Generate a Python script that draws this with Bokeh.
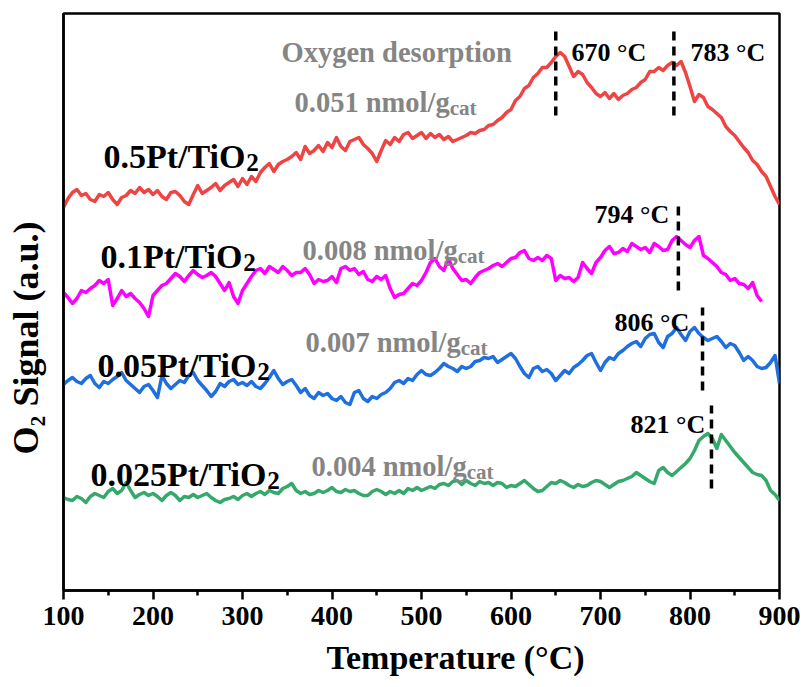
import math
from bokeh.plotting import figure
from bokeh.models import Range1d, Label, FixedTicker, ColumnDataSource
from bokeh.embed import file_html
from bokeh.resources import INLINE

# ---------------- data ----------------
temps = list(range(100, 901, 5))          # 100..900 °C
temps_mag = list(range(100, 881, 5))      # 100..880 °C

sig_05 = [383,392,398,401,395,397,391,389,396,394,398,391,386,393,395,400,397,403,398,401,
          396,400,394,391,398,399,395,389,386,396,405,397,400,403,407,400,405,408,411,404,
          412,406,414,409,418,423,427,419,426,429,431,434,438,431,444,437,440,445,439,448,
          443,453,444,440,449,451,453,446,442,437,429,440,450,446,453,449,456,458,452,455,
          458,452,457,453,456,451,454,449,451,453,455,458,457,460,461,465,466,470,473,478,
          481,490,494,502,505,513,517,523,523,528,534,538,534,524,514,519,516,508,503,497,
          494,498,492,497,491,495,497,501,503,508,511,519,519,523,520,525,528,525,529,518,
          504,489,496,493,484,481,477,473,464,459,455,449,443,438,430,426,419,414,404,394,386]

sig_01 = [298,293,287,292,300,298,302,305,310,307,311,285,292,300,294,297,292,288,282,274,
          295,300,305,307,312,317,314,309,315,320,316,313,315,318,314,307,300,308,294,287,
          300,307,314,320,322,317,324,321,318,324,320,315,318,318,322,316,307,311,309,310,
          314,308,322,324,320,322,316,319,311,309,314,311,315,302,293,296,297,302,307,305,
          310,318,328,332,324,320,332,322,316,310,311,307,313,318,320,322,325,327,324,328,
          332,333,338,340,332,330,333,330,335,332,310,315,312,313,309,313,328,322,317,328,
          333,340,344,337,338,342,339,347,344,341,343,338,347,344,340,341,350,354,350,346,
          343,350,354,335,332,328,324,318,316,310,312,307,306,302,308,295,289]

sig_005 = [206,210,213,209,207,212,215,207,203,209,207,211,214,218,210,206,202,198,204,206,
           200,193,215,207,202,206,210,208,215,218,210,205,200,194,199,207,204,209,211,206,
           208,205,209,204,202,207,213,220,212,206,209,211,205,198,202,195,192,198,195,197,
           192,190,194,188,186,198,200,192,189,194,192,196,198,202,208,210,207,212,210,216,
           220,216,215,218,222,227,224,222,219,224,222,224,229,230,233,232,234,228,231,234,
           237,232,224,217,213,222,224,219,221,217,210,215,220,217,223,226,230,235,237,228,
           220,228,233,231,237,240,244,247,249,244,252,256,257,248,243,254,257,263,256,250,
           259,263,257,253,250,252,254,249,243,247,245,238,230,234,230,224,222,223,228,235,207]

sig_0025 = [93,91,90,94,92,88,94,97,95,93,99,102,97,100,108,100,93,96,98,95,
            97,94,90,95,98,95,90,94,93,96,93,95,97,93,90,88,91,92,94,91,
            95,97,94,97,99,96,100,98,97,102,104,107,100,97,99,96,97,100,98,100,
            103,99,98,101,99,100,97,95,95,99,101,99,96,99,97,100,97,102,100,103,
            100,102,104,102,106,107,105,109,110,106,110,107,105,109,107,108,105,108,107,103,
            105,104,107,110,106,102,99,100,104,108,107,110,108,105,103,106,104,105,108,110,
            109,106,103,106,109,110,112,114,118,115,112,109,107,120,123,118,115,119,123,127,
            132,140,150,154,157,152,142,156,150,144,138,133,128,123,118,116,115,110,100,96,90]

series_names = ["0.5Pt/TiO2", "0.1Pt/TiO2", "0.05Pt/TiO2", "0.025Pt/TiO2"]
amounts = ["0.051", "0.008", "0.007", "0.004"]
peak_labels = ["670 °C", "783 °C", "794 °C", "806 °C", "821 °C"]
peak_T = [650, 782, 787, 814, 824]
peak_y0 = [475, 475, 300, 200, 102]
peak_y1 = [560, 560, 387, 283, 185]
xticks = [100, 200, 300, 400, 500, 600, 700, 800, 900]
xminor = [150, 250, 350, 450, 550, 650, 750, 850]

colors = ["#EF4444", "#FF00FF", "#1F6FDE", "#35A86B"]

# ---------------- figure ----------------
W, H = 804, 687
L, R, TOP, BOT = 63, 779, 13, 590

p = figure(width=W, height=H, output_backend="svg", toolbar_location=None,
           x_range=Range1d(100, 900), y_range=Range1d(0, BOT - TOP),
           min_border_left=L, min_border_right=W - R, min_border_top=TOP,
           min_border_bottom=H - BOT)
p.background_fill_color = "white"
p.border_fill_color = "white"
p.outline_line_color = "black"
p.outline_line_width = 2.5
p.grid.visible = False

FONT = "Liberation Serif"
NB = "\u00a0"

ax = p.xaxis[0]
ax.ticker = FixedTicker(ticks=xticks, minor_ticks=xminor)
ax.axis_line_width = 2.5
ax.major_tick_line_width = 2.5
ax.minor_tick_line_width = 2.5
ax.major_tick_in = 0
ax.major_tick_out = 9
ax.minor_tick_in = 0
ax.minor_tick_out = 5
ax.major_label_text_font = FONT
ax.major_label_text_font_style = "bold"
ax.major_label_text_font_size = "28px"
ax.major_label_text_color = "black"
ax.major_label_standoff = 7
ax.axis_label = NB * 8 + "Temperature (°C)"
ax.axis_label_text_font = FONT
ax.axis_label_text_font_style = "bold"
ax.axis_label_text_font_size = "34px"
ax.axis_label_text_color = "black"
ax.axis_label_standoff = 11

ay = p.yaxis[0]
ay.ticker = FixedTicker(ticks=[])
ay.major_tick_out = 0
ay.major_tick_in = 0
ay.minor_tick_out = 0
ay.minor_tick_in = 0
ay.major_label_text_font_size = "0px"
ay.axis_line_width = 2.5
ay.axis_label = "O\u2082 Signal (a.u.)" + NB * 8
ay.axis_label_text_font = FONT
ay.axis_label_text_font_style = "bold"
ay.axis_label_text_font_size = "36px"
ay.axis_label_text_color = "black"
ay.axis_label_standoff = 18

for vals, xs, c in [(sig_05, temps, colors[0]), (sig_01, temps_mag, colors[1]),
                    (sig_005, temps, colors[2]), (sig_0025, temps, colors[3])]:
    p.line(xs, vals, line_color=c, line_width=3.5, line_join="round")

seg = ColumnDataSource(dict(x=peak_T, y0=peak_y0, y1=peak_y1))
p.segment(x0="x", y0="y0", x1="x", y1="y1", source=seg, line_color="black",
          line_width=3.5, line_dash="9 6")

# ---------------- text helpers ----------------
TB = {'0':500,'1':500,'2':500,'3':500,'4':500,'5':500,'6':500,'7':500,'8':500,'9':500,
      '.':250,' ':250,'/':278,'P':611,'t':333,'T':667,'i':278,'O':778,'n':556,'m':833,
      'o':500,'l':278,'g':500,'c':444,'a':500,'x':500,'y':500,'e':444,'d':556,'s':389,
      'r':444,'p':556,'°':400,'C':722,'S':556,'u':556,'(':333,')':333}

def tw(s):
    return sum(TB.get(ch, 500) for ch in s) / 1000.0

def lab(x, y, text, size, color):
    # x, y are screen pixels measured from the frame's left / bottom edge
    p.add_layout(Label(x=x, y=y, x_units="screen", y_units="screen", text=text,
                       text_font=FONT, text_font_style="bold",
                       text_font_size=f"{size:.1f}px", text_color=color,
                       text_baseline="alphabetic", text_align="left",
                       level="overlay"))

SUB, SHIFT = 0.74, 0.18

def rich(parts, px, py, size, color):
    cur = px
    for text, sub in parts:
        fs = size * SUB if sub else size
        dy = size * SHIFT if sub else 0
        lab(cur - L, BOT - (py + dy), text, fs, color)
        cur += tw(text) * fs

GRAY = "#858585"
name_pos = [(103, 156), (100, 256), (97, 365), (90, 474)]
for nm, (px, py) in zip(series_names, name_pos):
    rich([(nm[:-1], False), (nm[-1], True)], px, py, 34, "black")

rich([("Oxygen desorption", False)], 281, 52, 28.5, GRAY)
amt_pos = [(294, 102), (302, 250), (305, 342), (311, 466)]
for a, (px, py) in zip(amounts, amt_pos):
    rich([(a + " nmol/g", False), ("cat", True)], px, py, 28.5, GRAY)

pk_pos = [(571, 52), (690, 52), (594, 214), (614, 322), (630, 424)]
for t, (px, py) in zip(peak_labels, pk_pos):
    rich([(t, False)], px, py, 26, "black")

open("out.html", "w").write(file_html(p, INLINE))
